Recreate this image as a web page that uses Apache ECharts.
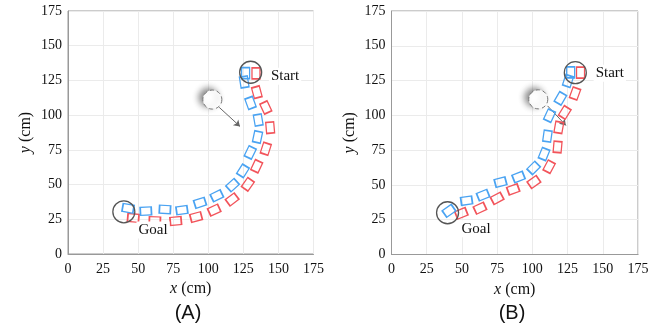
<!DOCTYPE html>
<html>
<head>
<meta charset="utf-8">
<script src="https://cdn.jsdelivr.net/npm/echarts@6/dist/echarts.min.js"></script>
<style>
  html, body { margin: 0; padding: 0; background: #fff; }
  #chart { width: 660px; height: 330px; }
</style>
</head>
<body>
<div id="chart"></div>
<script>
// axis ticks (cm)
const ticks = [0, 25, 50, 75, 100, 125, 150, 175];

// panel A: footprints [x, y] and heading (deg)
const aBlue = [[126.6, 130.3], [125.6, 123.9], [130.1, 108.8], [135.6, 96.5], [135.1, 84.3], [129.9, 73.1], [124.7, 59.9],
  [117.3, 49.6], [106.1, 41.9], [94.1, 36.9], [81.2, 31.6], [69.1, 32.1], [55.5, 30.9], [42.8, 32.9]];
const aBlueHead = [90, 99, 110, 100, 78, 64, 58, 42, 26, 18, 8, -3, 3, -10];
const aRed = [[134, 130], [134.6, 116.5], [141, 105.5], [144.1, 91], [141, 75.8], [134.5, 63.2], [128.2, 50.2],
  [117, 39.3], [104.2, 31.6], [91.3, 26.6], [76.8, 23.8], [61.9, 23.9], [46.5, 26]];
const aRedHead = [90, 105, 115, 95, 72, 65, 55, 37, 25, 15, 5, -2, -5];

// panel B
const bBlue = [[127.2, 130.9], [125.3, 124.7], [119.9, 112.2], [112.2, 99.8], [110.7, 85.1], [108.3, 72.2],
  [100.9, 62.2], [90.2, 55.7], [77.4, 52], [65, 42.7], [53.3, 38.7], [40.8, 31.4]];
const bBlueHead = [90, 72, 60, 65, 82, 68, 45, 22, 15, 22, 8, 35];
const bRed = [[134.2, 130.7], [130.3, 115.7], [123, 102.1], [118.8, 91.3], [117.9, 77.3], [111.9, 63.1],
  [101.1, 52.1], [86.4, 46.8], [75, 40.4], [62.8, 33.3], [49.6, 29.6]];
const bRedHead = [90, 70, 58, 80, 85, 62, 35, 20, 28, 25, 22];

// start / goal / moving obstacle
const aStart = [130.2, 130.9], aGoal = [39.8, 30.4];
const bStart = [130.5, 130.7], bGoal = [39.8, 30];
const aObstacle = [102.9, 111.2], bObstacle = [104.2, 111.5];
const aArrow = [[107.8, 105.6], [122.6, 91.9]];
const bArrow = [[110.8, 106.8], [123.8, 92.8]];
const aStartLabel = [143.2, 128], aGoalLabel = [48.8, 17.3];
const bStartLabel = [143.5, 130.2], bGoalLabel = [48.3, 18.5];

const SERIF = 'Liberation Serif';
const RED = '#f2545b';
const BLUE = '#4aa3f2';

function axisX(gridIndex) {
  return {
    gridIndex, type: 'value', min: ticks[0], max: ticks[ticks.length - 1], interval: 25,
    name: '{i|x} (cm)', nameLocation: 'middle', nameGap: 26,
    nameTextStyle: { fontFamily: SERIF, fontSize: 16, color: '#111', rich: { i: { fontFamily: SERIF, fontSize: 16, fontStyle: 'italic', color: '#111' } } },
    axisLine: { show: true, lineStyle: { color: '#999' } },
    axisTick: { show: false },
    axisLabel: { fontFamily: SERIF, fontSize: 14, color: '#111', margin: 8 },
    splitLine: { lineStyle: { color: '#ebebeb' } }
  };
}
function axisY(gridIndex) {
  return {
    gridIndex, type: 'value', min: ticks[0], max: ticks[ticks.length - 1], interval: 25,
    name: '{i|y} (cm)', nameLocation: 'middle', nameGap: 34,
    nameTextStyle: { fontFamily: SERIF, fontSize: 16, color: '#111', rich: { i: { fontFamily: SERIF, fontSize: 16, fontStyle: 'italic', color: '#111' } } },
    axisLine: { show: true, lineStyle: { color: '#999' } },
    axisTick: { show: false },
    axisLabel: { fontFamily: SERIF, fontSize: 14, color: '#111', margin: 6 },
    splitLine: { lineStyle: { color: '#ebebeb' } }
  };
}

function footprints(idx, pts, heads, color) {
  return {
    type: 'scatter', xAxisIndex: idx, yAxisIndex: idx, z: 3,
    symbol: 'rect', symbolSize: [11, 8],
    data: pts.map((p, i) => ({ value: p, symbolRotate: heads[i] })),
    itemStyle: { color: 'rgba(0,0,0,0)', borderColor: color, borderWidth: 1.5, opacity: 1 }
  };
}

function panel(idx, blue, blueHead, red, redHead, start, goal, obstacle, arrow, startLabel, goalLabel) {
  return [
    {
      type: 'scatter', xAxisIndex: idx, yAxisIndex: idx, z: 2,
      symbol: 'circle', symbolSize: 19, data: [obstacle],
      itemStyle: {
        color: '#fff', borderColor: '#777', borderWidth: 1, borderType: [4, 3], opacity: 1,
        shadowBlur: 6, shadowColor: 'rgba(0,0,0,0.45)', shadowOffsetX: -4, shadowOffsetY: -2
      }
    },
    {
      type: 'lines', coordinateSystem: 'cartesian2d', xAxisIndex: idx, yAxisIndex: idx, z: 2,
      symbol: ['none', 'arrow'], symbolSize: 6,
      lineStyle: { color: '#666', width: 1, opacity: 1 },
      data: [{ coords: arrow }]
    },
    footprints(idx, red, redHead, RED),
    footprints(idx, blue, blueHead, BLUE),
    {
      type: 'scatter', xAxisIndex: idx, yAxisIndex: idx, z: 4,
      symbol: 'circle', symbolSize: 22, data: [start, goal],
      itemStyle: { color: 'rgba(0,0,0,0)', borderColor: '#555', borderWidth: 1.3, opacity: 1 }
    },
    {
      type: 'scatter', xAxisIndex: idx, yAxisIndex: idx, z: 5,
      symbolSize: 0,
      data: [
        { value: startLabel, name: 'Start' },
        { value: goalLabel, name: 'Goal' }
      ],
      itemStyle: { opacity: 1 },
      label: {
        show: true, position: 'right', distance: 0, formatter: '{b}',
        fontFamily: SERIF, fontSize: 15, color: '#111',
        backgroundColor: '#fff', padding: [1, 2]
      }
    }
  ];
}

const chart = echarts.init(document.getElementById('chart'));
chart.setOption({
  animation: false,
  backgroundColor: '#fff',
  grid: [
    { left: 68, top: 11, width: 245.5, height: 243, show: true, borderColor: '#999', borderWidth: 1, backgroundColor: 'transparent' },
    { left: 391.5, top: 11, width: 246.5, height: 243.5, show: true, borderColor: '#999', borderWidth: 1, backgroundColor: 'transparent' }
  ],
  xAxis: [axisX(0), axisX(1)],
  yAxis: [axisY(0), axisY(1)],
  graphic: [
    { type: 'text', x: 188, y: 313, style: { text: '(A)', fontFamily: 'Liberation Sans', fontSize: 20, fill: '#111', align: 'center', verticalAlign: 'middle' } },
    { type: 'text', x: 512, y: 313, style: { text: '(B)', fontFamily: 'Liberation Sans', fontSize: 20, fill: '#111', align: 'center', verticalAlign: 'middle' } }
  ],
  series: [
    ...panel(0, aBlue, aBlueHead, aRed, aRedHead, aStart, aGoal, aObstacle, aArrow, aStartLabel, aGoalLabel),
    ...panel(1, bBlue, bBlueHead, bRed, bRedHead, bStart, bGoal, bObstacle, bArrow, bStartLabel, bGoalLabel)
  ]
});
</script>
</body>
</html>
